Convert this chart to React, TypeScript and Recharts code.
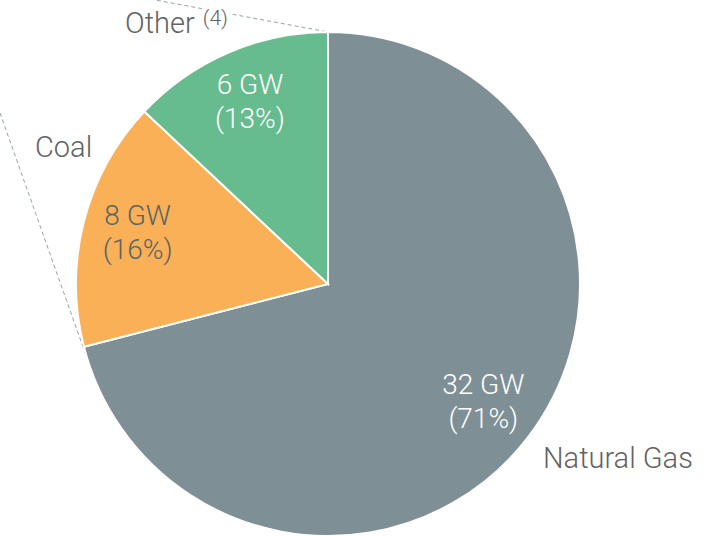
import React from 'react';
import { PieChart, Pie, Cell, Customized } from 'recharts';

const sources = ['Natural Gas', 'Coal', 'Other'];
const capacityGW = [32, 8, 6];
const sharePct = [71, 16, 13];
const footnotes = ['', '', '(4)'];

const COLORS = ['#7f8f96', '#f9b056', '#67bc8f'];
const INNER_TEXT = ['#ffffff', '#5a6468', '#ffffff'];
const OUTER_TEXT = '#626262';
const FONT = 'Roboto, "Noto Sans", sans-serif';

const CX = 328;
const CY = 284;
const R = 252;
const RADIAN = Math.PI / 180;

// where the outside names sit
const NAME_POS = [
    { x: 543, y: 468 },
    { x: 35, y: 157 },
    { x: 125, y: 33 },
];

const data = sources.map((name, i) => ({
    name,
    gw: capacityGW[i],
    pct: sharePct[i],
    note: footnotes[i],
}));

const total = sharePct.reduce((a, b) => a + b, 0);

const polar = (angle: number, r: number) => ({
    x: CX + r * Math.cos(-angle * RADIAN),
    y: CY + r * Math.sin(-angle * RADIAN),
});

const renderInnerLabel = (props: any) => {
    const { midAngle, index } = props;
    const p = polar(midAngle, R * 0.78);
    const d = data[index];
    return (
        <text
            x={p.x}
            y={p.y}
            textAnchor="middle"
            fill={INNER_TEXT[index]}
            fontFamily={FONT}
            fontWeight={300}
            fontSize={28}
        >
            <tspan x={p.x} y={p.y - 10}>{`${d.gw} GW`}</tspan>
            <tspan x={p.x} y={p.y + 24}>{`(${d.pct}%)`}</tspan>
        </text>
    );
};

const Connectors = () => {
    // end of natural gas slice (clockwise from 12 o'clock)
    const gasEnd = 90 - (sharePct[0] / total) * 360;
    const bottom = polar(gasEnd, R);
    const top = polar(90, R);
    return (
        <g>
            <line x1={0} y1={113} x2={bottom.x + 4} y2={bottom.y + 14} stroke="#94a1a7" strokeWidth={1} strokeDasharray="4 3" />
            <line x1={150} y1={-1} x2={top.x} y2={top.y} stroke="#94a1a7" strokeWidth={1} strokeDasharray="4 3" />
            {data.map((d, i) => (
                <text
                    key={d.name}
                    x={NAME_POS[i].x}
                    y={NAME_POS[i].y}
                    fill={OUTER_TEXT}
                    fontFamily={FONT}
                    fontWeight={300}
                    fontSize={29}
                    stroke="#ffffff"
                    strokeWidth={i === 2 ? 8 : 0}
                    paintOrder="stroke"
                >
                    {d.name}
                    {d.note && (
                        <tspan dx={8} dy={-8} fontSize={21}>{d.note}</tspan>
                    )}
                </text>
            ))}
        </g>
    );
};

const App = () => {
    return (
        <div style={{ position: 'absolute', left: 0, top: 0, width: 726, height: 536, background: '#fff' }}>
            <PieChart width={726} height={536} margin={{ top: 0, right: 0, bottom: 0, left: 0 }}>
                <Pie
                    data={data}
                    dataKey="pct"
                    nameKey="name"
                    cx={CX}
                    cy={CY}
                    outerRadius={R}
                    innerRadius={0}
                    startAngle={90}
                    endAngle={-270}
                    stroke="#ffffff"
                    strokeWidth={2}
                    label={renderInnerLabel}
                    labelLine={false}
                    isAnimationActive={false}
                >
                    {data.map((entry, index) => (
                        <Cell key={`cell-${index}`} fill={COLORS[index]} />
                    ))}
                </Pie>
                <Customized component={Connectors} />
            </PieChart>
        </div>
    );
};

export default App;
